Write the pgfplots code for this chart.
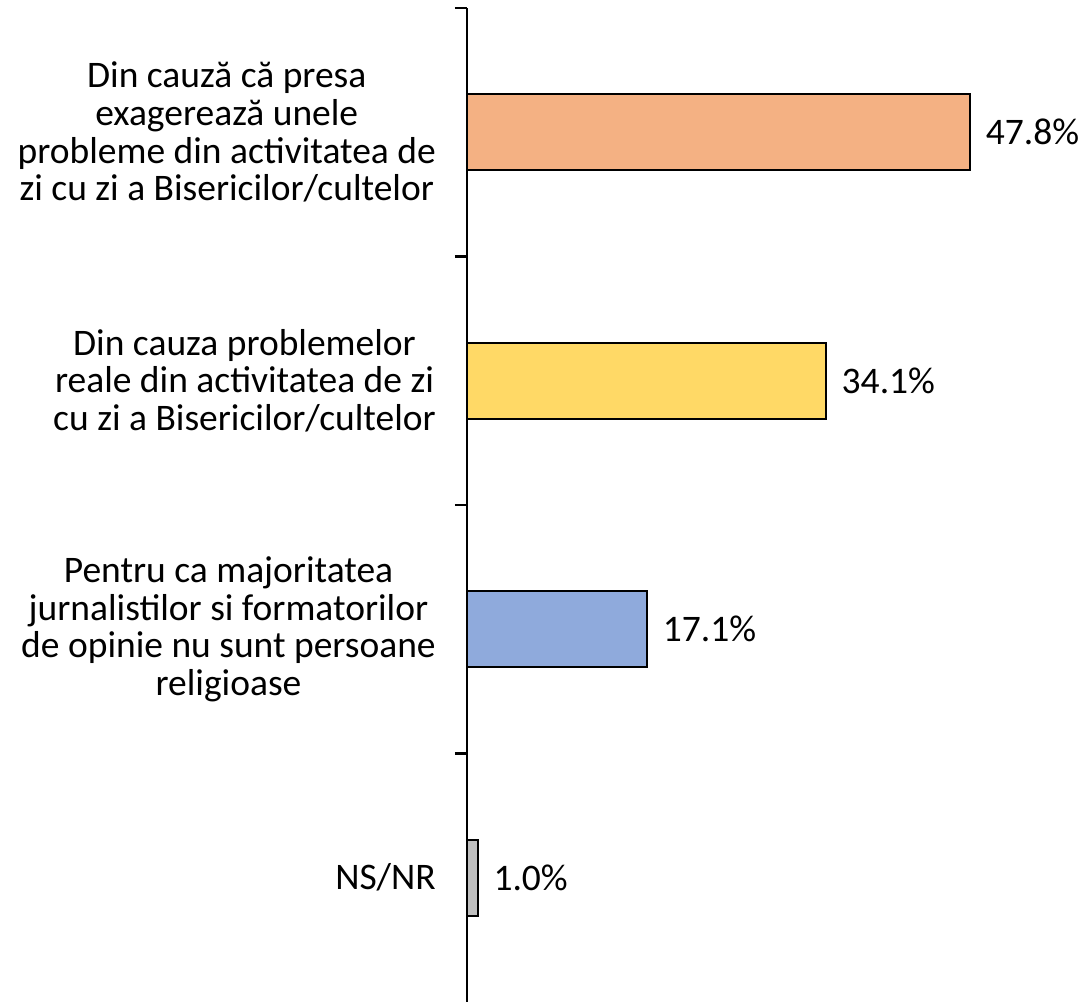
\documentclass[border=0pt]{standalone}
\usepackage{pgfplots}
\pgfplotsset{compat=1.18}
\usepackage{fontspec}
\setmainfont{Carlito}
\definecolor{cOr}{HTML}{F4B183}
\definecolor{cYe}{HTML}{FFD966}
\definecolor{cBl}{HTML}{8FAADC}
\definecolor{cGr}{HTML}{BFBFBF}
\newcommand{\bigf}{\fontsize{37.5bp}{37.7bp}\selectfont}
\begin{document}
\begin{tikzpicture}
\useasboundingbox (-467bp,0bp) rectangle (620bp,1002bp);
\begin{axis}[
  at={(0bp,0bp)}, anchor=south west,
  scale only axis, width=526bp, height=994bp,
  xbar, bar width=76bp, bar shift=0pt,
  xmin=0, xmax=50,
  ymin=0.5, ymax=4.5, y dir=reverse,
  axis y line*=left, axis x line=none,
  axis line style={line width=2.2bp, -},
  ytick={1,2,3,4},
  yticklabels={{Din cauză că presa\\exagerează unele\\probleme din activitatea de\\zi cu zi a Bisericilor/cultelor},
               {Din cauza problemelor\\reale din activitatea de zi\\cu zi a Bisericilor/cultelor},
               {Pentru ca majoritatea\\jurnalistilor si formatorilor\\de opinie nu sunt persoane\\religioase},
               {NS/NR}},
  minor ytick={0.5,1.5,2.5,3.5},
  major tick length=0pt, minor tick length=12bp,
  tick align=outside,
  tick style={line width=2.2bp, black},
  yticklabel style={font=\bigf, align=center, anchor=east, inner sep=0pt, xshift=-31bp},
  /pgf/number format/assume math mode=true,
  nodes near coords={\pgfmathprintnumber[fixed,fixed zerofill,precision=1,assume math mode=true]{\pgfplotspointmeta}\%},
  nodes near coords style={font=\bigf, anchor=west, inner sep=0pt, xshift=15bp},
  point meta=explicit,
  clip=false,
  every axis plot/.append style={draw=black, line width=2bp},
]
\addplot[fill=cOr] coordinates {(47.8,1) [47.8]};
\addplot[fill=cYe] coordinates {(34.1,2) [34.1]};
\addplot[fill=cBl] coordinates {(17.1,3) [17.1]};
\addplot[fill=cGr] coordinates {(1.0,4) [1.0]};
\end{axis}
\end{tikzpicture}
\end{document}
